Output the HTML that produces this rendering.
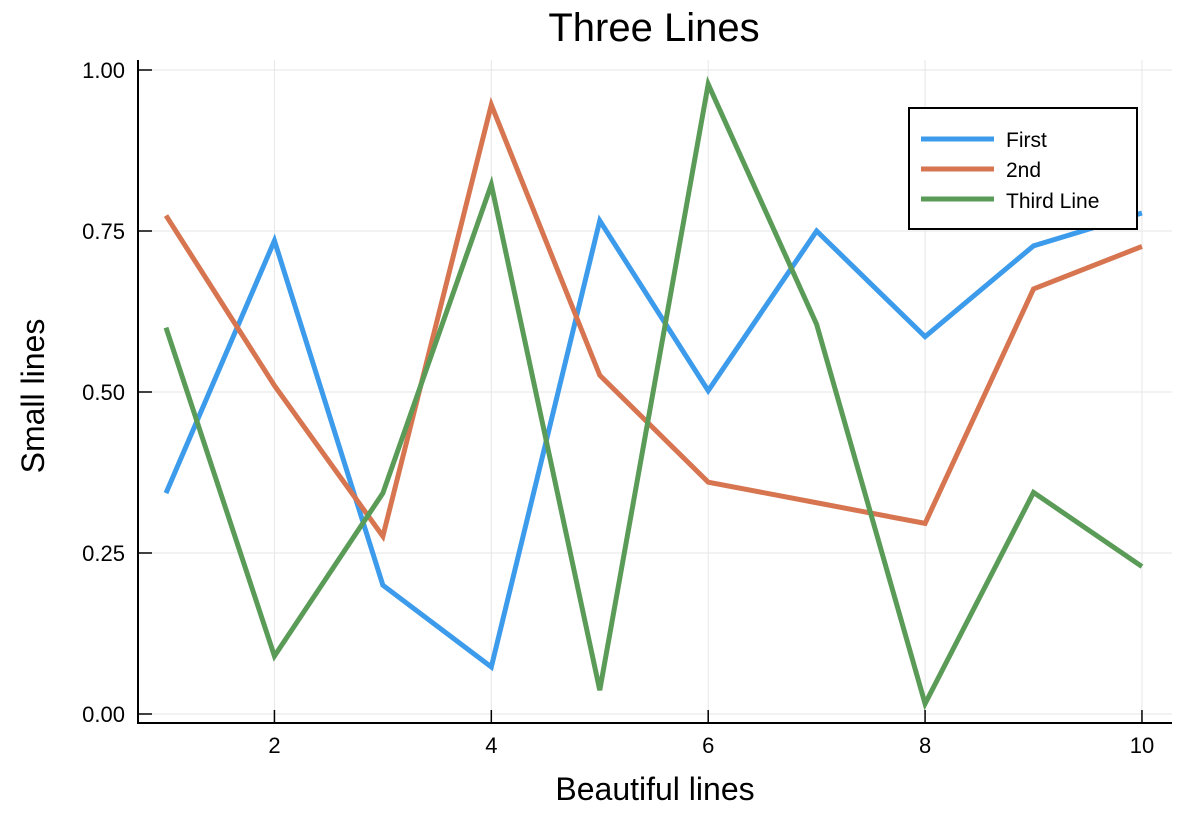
<!DOCTYPE html>
<html><head><meta charset="utf-8"><style>
body{margin:0;background:#fff;}
svg{display:block;font-family:"Liberation Sans",sans-serif;}
</style></head><body>
<svg id="chart" width="1188" height="814">
<text x="654" y="41" font-size="40" text-anchor="middle">Three Lines</text>
<text x="655" y="800" font-size="32" text-anchor="middle">Beautiful lines</text>
<text transform="translate(44,396) rotate(-90)" font-size="32" text-anchor="middle">Small lines</text>
<g id="grid"></g><g id="series"></g><g id="axes"></g>
<g>
<rect x="909" y="108" width="228" height="121" fill="#fff" stroke="#000" stroke-width="2"/>
<line x1="921" y1="139" x2="994" y2="139" stroke="#3d9bec" stroke-width="5"/>
<text x="1006" y="147" font-size="21">First</text>
<line x1="921" y1="169" x2="994" y2="169" stroke="#d67550" stroke-width="5"/>
<text x="1006" y="177" font-size="21">2nd</text>
<line x1="921" y1="199" x2="994" y2="199" stroke="#5a9c57" stroke-width="5"/>
<text x="1006" y="208" font-size="21">Third Line</text>
</g>
</svg>
<script>
const xs=[1,2,3,4,5,6,7,8,9,10];
const first=[0.343,0.735,0.2,0.073,0.766,0.502,0.75,0.586,0.727,0.778];
const second=[0.774,0.51,0.276,0.946,0.526,0.36,0.328,0.296,0.66,0.726];
const third=[0.6,0.09,0.343,0.822,0.037,0.978,0.605,0.016,0.344,0.229];
const xTicks=[2,4,6,8,10];
const yTicks=[0,0.25,0.5,0.75,1];
const yTickLabels=["0.00","0.25","0.50","0.75","1.00"];
const NS="http://www.w3.org/2000/svg";
const X=v=>166+(v-1)*108.44;
const Y=v=>714-v*644;
const L=138,R=1172,B=723,T=60;
function mk(tag,attrs,parent){const e=document.createElementNS(NS,tag);for(const k in attrs)e.setAttribute(k,attrs[k]);parent.appendChild(e);return e;}
const grid=document.getElementById('grid'),axes=document.getElementById('axes'),ser=document.getElementById('series');
xTicks.forEach(t=>{
 const g=mk('line',{x1:X(t),x2:X(t),y1:T,y2:B,stroke:'#e6e6e6','stroke-width':1},grid);
 
 
 const tk=mk('line',{x1:X(t),x2:X(t),y1:B,y2:B-13,stroke:'#000','stroke-width':1.5},axes);
 
 
 const tx=mk('text',{x:X(t),y:B+30,'font-size':22,'text-anchor':'middle'},axes);
 tx.textContent=t;
 
 
});
yTicks.forEach((t,i)=>{
 const g=mk('line',{x1:L,x2:R,y1:Y(t),y2:Y(t),stroke:'#e6e6e6','stroke-width':1},grid);
 
 
 const tk=mk('line',{x1:L,x2:L+14,y1:Y(t),y2:Y(t),stroke:'#000','stroke-width':1.5},axes);
 
 
 const tx=mk('text',{x:L-13,y:Y(t)+8,'font-size':22,'text-anchor':'end'},axes);
 tx.textContent=yTickLabels[i];
 
 
});
const ax1=mk('line',{x1:L,x2:L,y1:T,y2:B+1,stroke:'#000','stroke-width':2},axes);


const ax2=mk('line',{x1:L-1,x2:R,y1:B,y2:B,stroke:'#000','stroke-width':2},axes);


[[first,'#3d9bec','series-first'],[second,'#d67550','series-2nd'],[third,'#5a9c57','series-third']].forEach(([d,c,n])=>{
 const p=mk('polyline',{points:d.map((v,i)=>X(xs[i])+','+Y(v)).join(' '),fill:'none',stroke:c,'stroke-width':5,'stroke-linejoin':'miter'},ser);
 
 
});
</script>
</body></html>
